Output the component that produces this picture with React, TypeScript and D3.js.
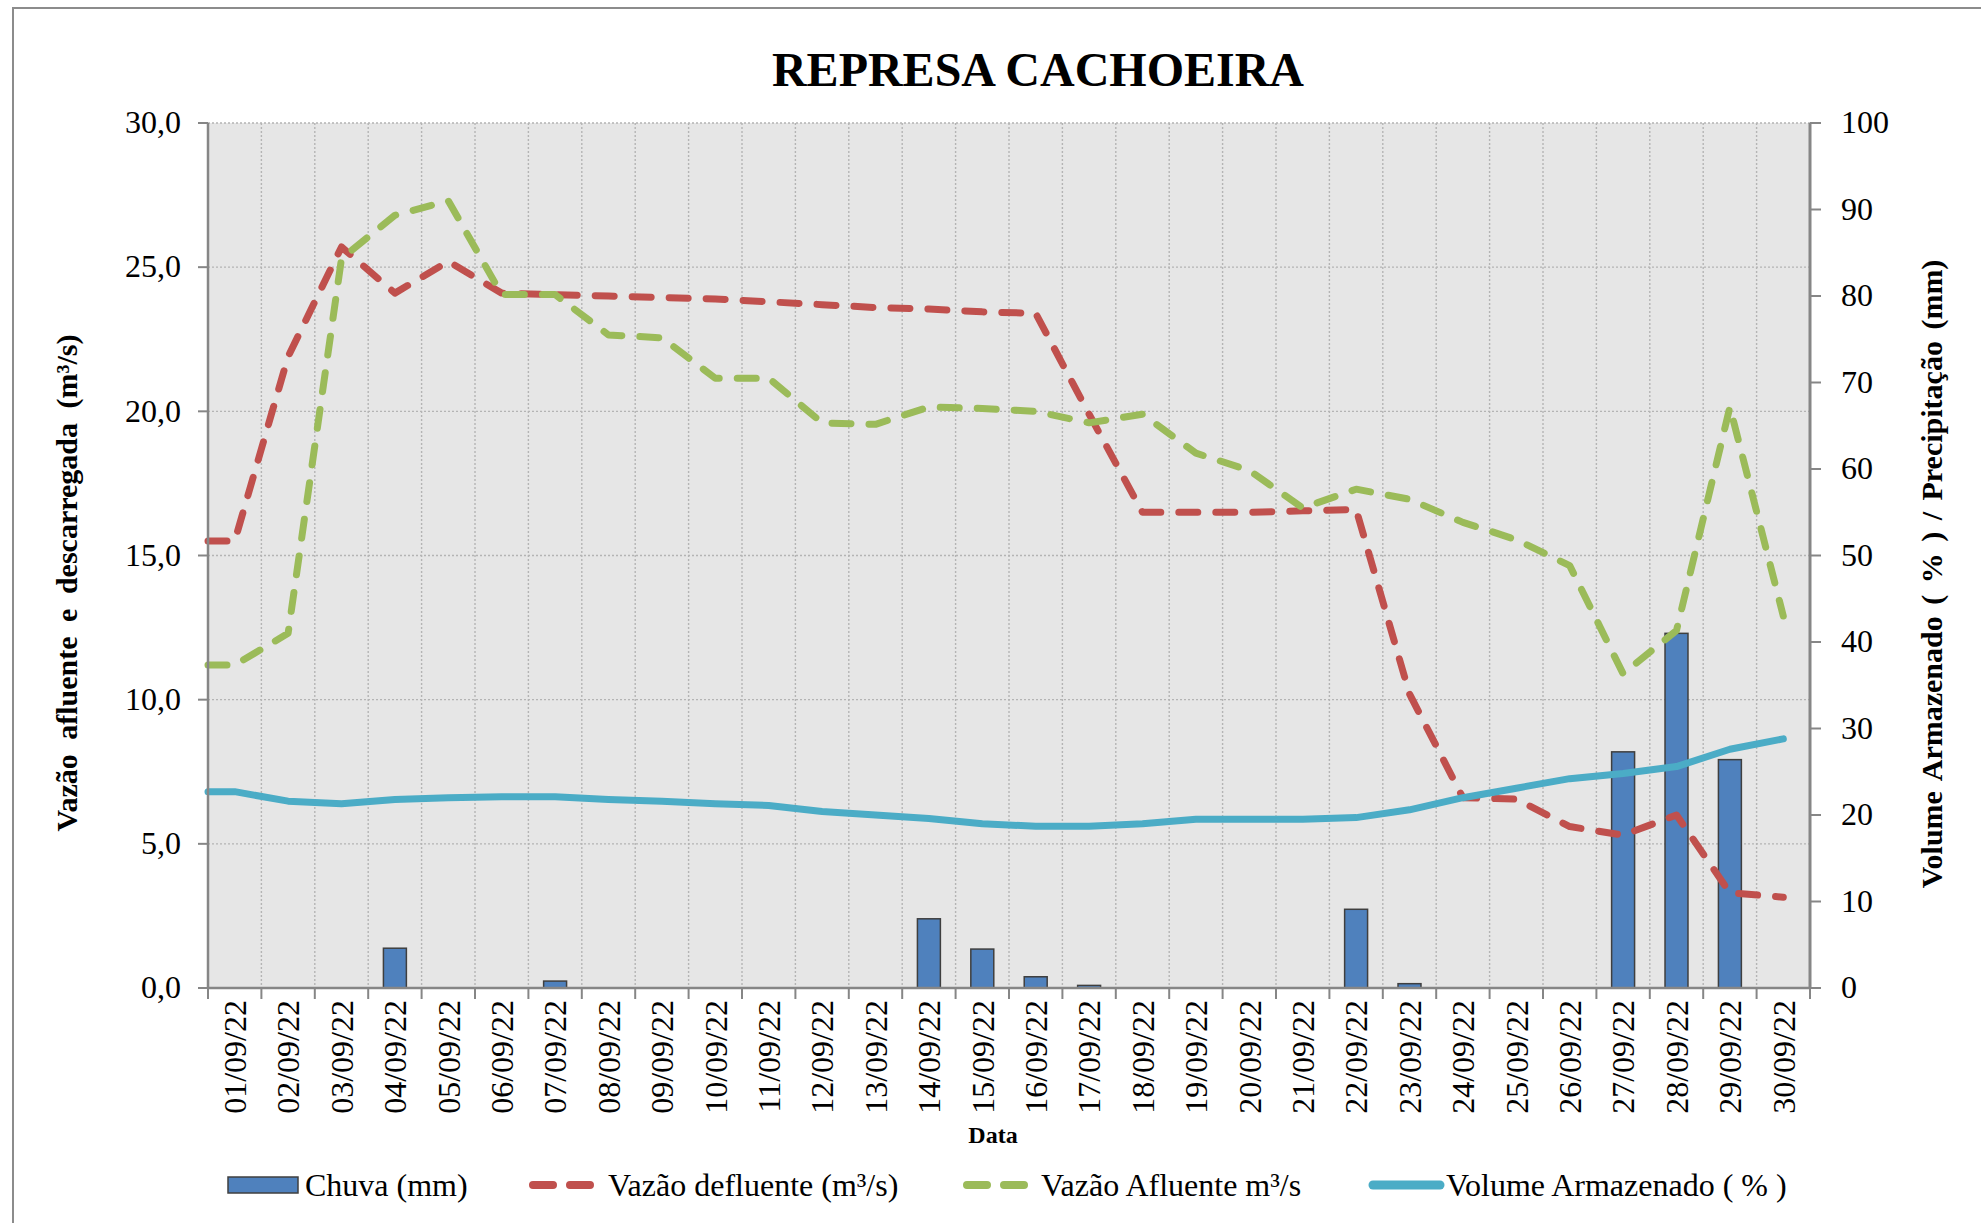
import React from 'react';
import * as d3 from 'd3';

// datas (eixo x)
const dates = [
  '01/09/22', '02/09/22', '03/09/22', '04/09/22', '05/09/22', '06/09/22',
  '07/09/22', '08/09/22', '09/09/22', '10/09/22', '11/09/22', '12/09/22',
  '13/09/22', '14/09/22', '15/09/22', '16/09/22', '17/09/22', '18/09/22',
  '19/09/22', '20/09/22', '21/09/22', '22/09/22', '23/09/22', '24/09/22',
  '25/09/22', '26/09/22', '27/09/22', '28/09/22', '29/09/22', '30/09/22',
];

// chuva (mm) - eixo direito
const chuva = [
  0, 0, 0, 4.6, 0, 0, 0.8, 0, 0, 0, 0, 0, 0, 8.0, 4.5,
  1.3, 0.3, 0, 0, 0, 0, 9.1, 0.5, 0, 0, 0, 27.3, 41.0, 26.4, 0,
];

// vazão defluente (m³/s) - eixo esquerdo
const defluente = [
  15.5, 21.9, 25.7, 24.1, 25.2, 24.1, 24.05, 24.0, 23.95, 23.9, 23.8, 23.7, 23.6, 23.55, 23.45,
  23.4, 19.9, 16.5, 16.5, 16.5, 16.55, 16.6, 10.2, 6.6, 6.55, 5.6, 5.3, 6.0, 3.3, 3.15,
];

// vazão afluente (m³/s) - eixo esquerdo
const afluente = [
  11.2, 12.3, 25.3, 26.8, 27.3, 24.05, 24.05, 22.65, 22.55, 21.15, 21.15, 19.6, 19.55, 20.15, 20.1,
  20.0, 19.6, 19.9, 18.55, 17.95, 16.65, 17.3, 16.95, 16.15, 15.55, 14.65, 10.9, 12.4, 20.15, 12.9,
];

// volume armazenado (%) - eixo direito
const volume = [
  22.7, 21.6, 21.3, 21.8, 22.0, 22.1, 22.1, 21.8, 21.6, 21.3, 21.1, 20.4, 20.0, 19.6, 19.0,
  18.7, 18.7, 19.0, 19.5, 19.5, 19.5, 19.7, 20.6, 22.0, 23.1, 24.2, 24.8, 25.6, 27.6, 28.8,
];

const leftTicks = [0, 5, 10, 15, 20, 25, 30];
const rightTicks = [0, 10, 20, 30, 40, 50, 60, 70, 80, 90, 100];

const legendItems = [
  { label: 'Chuva (mm)', kind: 'bar', color: '#4F81BD' },
  { label: 'Vazão defluente (m³/s)', kind: 'dash', color: '#C0504D' },
  { label: 'Vazão Afluente m³/s', kind: 'dash', color: '#9BBB59' },
  { label: 'Volume Armazenado ( % )', kind: 'solid', color: '#4BACC6' },
];

const FONT = '"Liberation Serif", "Times New Roman", Times, serif';

const App = () => {
  const width = 1981;
  const height = 1223;
  const plot = { left: 208, right: 1810, top: 123, bottom: 988 };

  const x = d3.scaleBand<string>().domain(dates).range([plot.left, plot.right]).padding(0);
  const bw = x.bandwidth();
  const cx = (i: number) => (x(dates[i]) as number) + bw / 2;

  const yL = d3.scaleLinear().domain([0, 30]).range([plot.bottom, plot.top]);
  const yR = d3.scaleLinear().domain([0, 100]).range([plot.bottom, plot.top]);

  const line = d3.line<[number, number]>().x(d => d[0]).y(d => d[1]);

  // a linha começa na borda esquerda com o primeiro valor
  const toPts = (vals: number[], y: d3.ScaleLinear<number, number>): [number, number][] => [
    [plot.left, y(vals[0])],
    ...vals.map((v, i) => [cx(i), y(v)] as [number, number]),
  ];

  const fmtL = (v: number) => d3.format('.1f')(v).replace('.', ',');
  const barW = bw * 0.43;
  const dash = '19 18';

  const legendX = [228, 529, 963, 1369];
  const legendTextX = [305, 608, 1041, 1446];
  const legendY = 1185;

  return (
    <svg width={width} height={height} style={{ position: 'absolute', left: 0, top: 0, background: '#fff' }}
      fontFamily={FONT}>
      <rect x={0} y={0} width={width} height={height} fill="#fff" />
      <path d={`M13,${height} V8 H${width}`} fill="none" stroke="#8c8c8c" strokeWidth={2} />

      <text x={1038} y={86} textAnchor="middle" fontSize={48} fontWeight="bold">REPRESA CACHOEIRA</text>

      {/* área do gráfico */}
      <rect x={plot.left} y={plot.top} width={plot.right - plot.left} height={plot.bottom - plot.top} fill="#E6E6E6" />

      {/* grade */}
      {dates.slice(1).map(d => (
        <line key={'gv' + d} x1={x(d)} x2={x(d)} y1={plot.top} y2={plot.bottom}
          stroke="#B4B4B4" strokeWidth={1.4} strokeDasharray="2 2" />
      ))}
      {leftTicks.slice(1).map(t => (
        <line key={'gh' + t} x1={plot.left} x2={plot.right} y1={yL(t)} y2={yL(t)}
          stroke="#B4B4B4" strokeWidth={1.4} strokeDasharray="2 2" />
      ))}

      {/* barras de chuva */}
      {chuva.map((v, i) => v > 0 && (
        <rect key={'b' + i} x={cx(i) - barW / 2} y={yR(v)} width={barW} height={yR(0) - yR(v)}
          fill="#4F81BD" stroke="#3F3F3F" strokeWidth={1.5} />
      ))}

      {/* linhas */}
      <path d={line(toPts(defluente, yL)) || ''} fill="none" stroke="#C0504D" strokeWidth={7}
        strokeDasharray={dash} strokeLinecap="round" strokeLinejoin="round" />
      <path d={line(toPts(afluente, yL)) || ''} fill="none" stroke="#9BBB59" strokeWidth={7}
        strokeDasharray={dash} strokeLinecap="round" strokeLinejoin="round" />
      <path d={line(toPts(volume, yR)) || ''} fill="none" stroke="#4BACC6" strokeWidth={7}
        strokeLinecap="round" strokeLinejoin="round" />

      {/* eixo esquerdo */}
      <line x1={plot.left} x2={plot.left} y1={plot.top} y2={plot.bottom} stroke="#868686" strokeWidth={2.5} />
      {leftTicks.map(t => (
        <g key={'lt' + t}>
          <line x1={plot.left - 10} x2={plot.left} y1={yL(t)} y2={yL(t)} stroke="#868686" strokeWidth={2} />
          <text x={181} y={yL(t)} dy="0.32em" textAnchor="end" fontSize={32}>{fmtL(t)}</text>
        </g>
      ))}

      {/* eixo direito */}
      <line x1={plot.right} x2={plot.right} y1={plot.top} y2={plot.bottom} stroke="#868686" strokeWidth={3} />
      {rightTicks.map(t => (
        <g key={'rt' + t}>
          <line x1={plot.right} x2={plot.right + 11} y1={yR(t)} y2={yR(t)} stroke="#868686" strokeWidth={2} />
          <text x={1841} y={yR(t)} dy="0.32em" textAnchor="start" fontSize={32}>{t}</text>
        </g>
      ))}

      {/* eixo x */}
      <line x1={plot.left} x2={plot.right} y1={plot.bottom} y2={plot.bottom} stroke="#868686" strokeWidth={2.5} />
      {[...dates.map(d => x(d) as number), plot.right].map((px, i) => (
        <line key={'xt' + i} x1={px} x2={px} y1={plot.bottom} y2={plot.bottom + 11} stroke="#868686" strokeWidth={2} />
      ))}
      {dates.map((d, i) => (
        <text key={'xl' + d} transform={`translate(${cx(i)},1000) rotate(-90)`} dy="0.35em"
          textAnchor="end" fontSize={32}>{d}</text>
      ))}

      {/* títulos dos eixos */}
      <text transform="translate(66,583) rotate(-90)" dy="0.35em" textAnchor="middle" fontSize={30}
        fontWeight="bold" wordSpacing={7}>Vazão afluente e descarregada (m³/s)</text>
      <text transform="translate(1931,574) rotate(-90)" dy="0.35em" textAnchor="middle" fontSize={30}
        fontWeight="bold" wordSpacing={4}>Volume Armazenado  ( % ) / Precipitação  (mm)</text>
      <text x={993} y={1143} textAnchor="middle" fontSize={24} fontWeight="bold">Data</text>

      {/* legenda */}
      {legendItems.map((it, i) => (
        <g key={'lg' + i}>
          {it.kind === 'bar' && (
            <rect x={legendX[i]} y={legendY - 8} width={70} height={16} fill={it.color} stroke="#3F3F3F" strokeWidth={1.5} />
          )}
          {it.kind === 'dash' && (
            <line x1={legendX[i] + 4} x2={legendX[i] + 62} y1={legendY} y2={legendY} stroke={it.color}
              strokeWidth={8} strokeDasharray="20 17" strokeLinecap="round" />
          )}
          {it.kind === 'solid' && (
            <line x1={legendX[i] + 4} x2={legendX[i] + 71} y1={legendY} y2={legendY} stroke={it.color}
              strokeWidth={9} strokeLinecap="round" />
          )}
          <text x={legendTextX[i]} y={1196} fontSize={32}>{it.label}</text>
        </g>
      ))}
    </svg>
  );
};

export default App;
